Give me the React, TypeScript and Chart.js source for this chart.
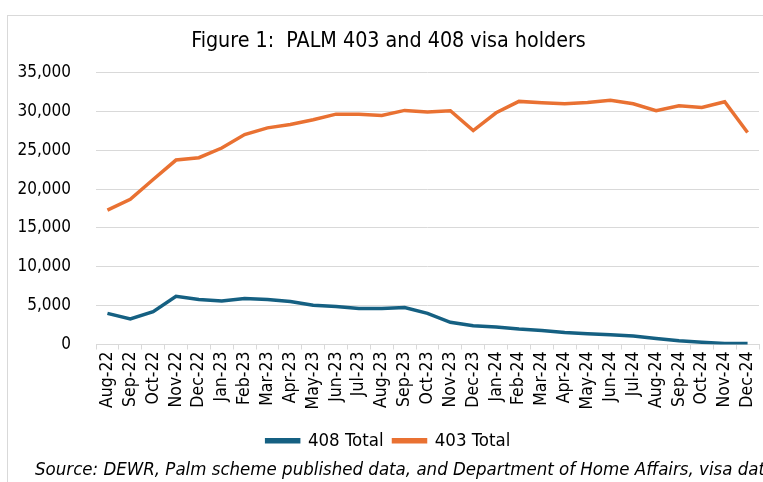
import React, { useEffect, useRef } from "react";
import { Chart, registerables } from "chart.js";

Chart.register(...registerables);

const categories = [
  "Aug-22", "Sep-22", "Oct-22", "Nov-22", "Dec-22", "Jan-23", "Feb-23", "Mar-23",
  "Apr-23", "May-23", "Jun-23", "Jul-23", "Aug-23", "Sep-23", "Oct-23", "Nov-23",
  "Dec-23", "Jan-24", "Feb-24", "Mar-24", "Apr-24", "May-24", "Jun-24", "Jul-24",
  "Aug-24", "Sep-24", "Oct-24", "Nov-24", "Dec-24",
];

const total408 = [
  4010, 3280, 4230, 6210, 5780, 5610, 5910, 5780, 5520, 5050, 4880, 4620, 4620, 4750,
  4010, 2850, 2420, 2240, 1980, 1810, 1550, 1380, 1250, 1080, 780, 480, 300, 130, 130,
];

const total403 = [
  17300, 18690, 21230, 23740, 24040, 25290, 27020, 27880, 28310, 28920, 29650, 29650,
  29480, 30130, 29910, 30080, 27540, 29820, 31290, 31120, 30990, 31160, 31420, 30990,
  30080, 30730, 30510, 31250, 27280,
];

const yTicks = [0, 5000, 10000, 15000, 20000, 25000, 30000, 35000];

const titleText = "Figure 1:  PALM 403 and 408 visa holders";
const sourceText =
  "Source: DEWR, Palm scheme published data, and Department of Home Affairs, visa data";

const FONT = '"DejaVu Sans Condensed", "DejaVu Sans", sans-serif';
const BLUE = "#156082";
const ORANGE = "#E97132";
const GRID = "#d9d9d9";

const sourcePlugin = {
  id: "sourceText",
  afterDraw(chart: any) {
    const ctx = chart.ctx;
    ctx.save();
    ctx.font = `italic 18.5px ${FONT}`;
    ctx.fillStyle = "#000";
    ctx.textBaseline = "middle";
    ctx.textAlign = "left";
    ctx.fillText(sourceText, 35, 470);
    ctx.restore();
  },
};

export default function App() {
  const ref = useRef<HTMLCanvasElement | null>(null);

  useEffect(() => {
    if (!ref.current) return;
    const chart = new Chart(ref.current, {
      type: "line",
      data: {
        labels: categories,
        datasets: [
          {
            label: "408 Total",
            data: total408,
            borderColor: BLUE,
            backgroundColor: BLUE,
            borderWidth: 3.5,
            pointRadius: 0,
            tension: 0,
          },
          {
            label: "403 Total",
            data: total403,
            borderColor: ORANGE,
            backgroundColor: ORANGE,
            borderWidth: 3.5,
            pointRadius: 0,
            tension: 0,
          },
        ],
      },
      options: {
        responsive: false,
        animation: false,
        layout: { padding: { left: 18, right: 4, top: 0, bottom: 22 } },
        plugins: {
          title: {
            display: true,
            text: titleText,
            color: "#000",
            font: { family: FONT, size: 21.3, weight: "normal" },
            padding: { top: 29, bottom: 18 },
          },
          legend: {
            display: true,
            position: "bottom",
            labels: {
              color: "#000",
              font: { family: FONT, size: 18.5 },
              boxWidth: 32,
              boxHeight: 2,
              padding: 10,
            },
          },
          tooltip: { enabled: false },
        },
        scales: {
          x: {
            type: "category",
            offset: true,
            afterFit(scale: any) {
              scale.height = 77;
              scale.paddingLeft = 0;
              scale.paddingRight = 0;
            },
            grid: {
              display: true,
              offset: true,
              drawOnChartArea: false,
              drawTicks: true,
              tickLength: 5,
              color: GRID,
            },
            border: { display: true, color: GRID, width: 1 },
            ticks: {
              color: "#000",
              font: { family: FONT, size: 17.5 },
              minRotation: 90,
              maxRotation: 90,
              autoSkip: false,
              padding: 2,
            },
          },
          y: {
            min: 0,
            max: 35000,
            afterBuildTicks(scale: any) {
              scale.ticks = yTicks.map((v) => ({ value: v }));
            },
            afterFit(scale: any) {
              scale.width = 78;
            },
            grid: { color: GRID, drawTicks: false, lineWidth: 1 },
            border: { display: false },
            ticks: {
              color: "#000",
              font: { family: FONT, size: 17 },
              padding: 25,
              callback: (v: any) => Number(v).toLocaleString("en-US"),
            },
          },
        },
      },
      plugins: [sourcePlugin],
    });
    return () => chart.destroy();
  }, []);

  return (
    <div
      style={{
        position: "fixed",
        left: 0,
        top: 0,
        width: 763,
        height: 482,
        overflow: "hidden",
        background: "#fff",
      }}
    >
      <div
        style={{
          position: "absolute",
          left: 7,
          top: 15,
          width: 756,
          height: 467,
          borderTop: `1px solid ${GRID}`,
          borderLeft: `1px solid ${GRID}`,
        }}
      />
      <canvas
        ref={ref}
        width={763}
        height={482}
        style={{ position: "absolute", left: 0, top: 0, width: 763, height: 482 }}
      />
    </div>
  );
}
